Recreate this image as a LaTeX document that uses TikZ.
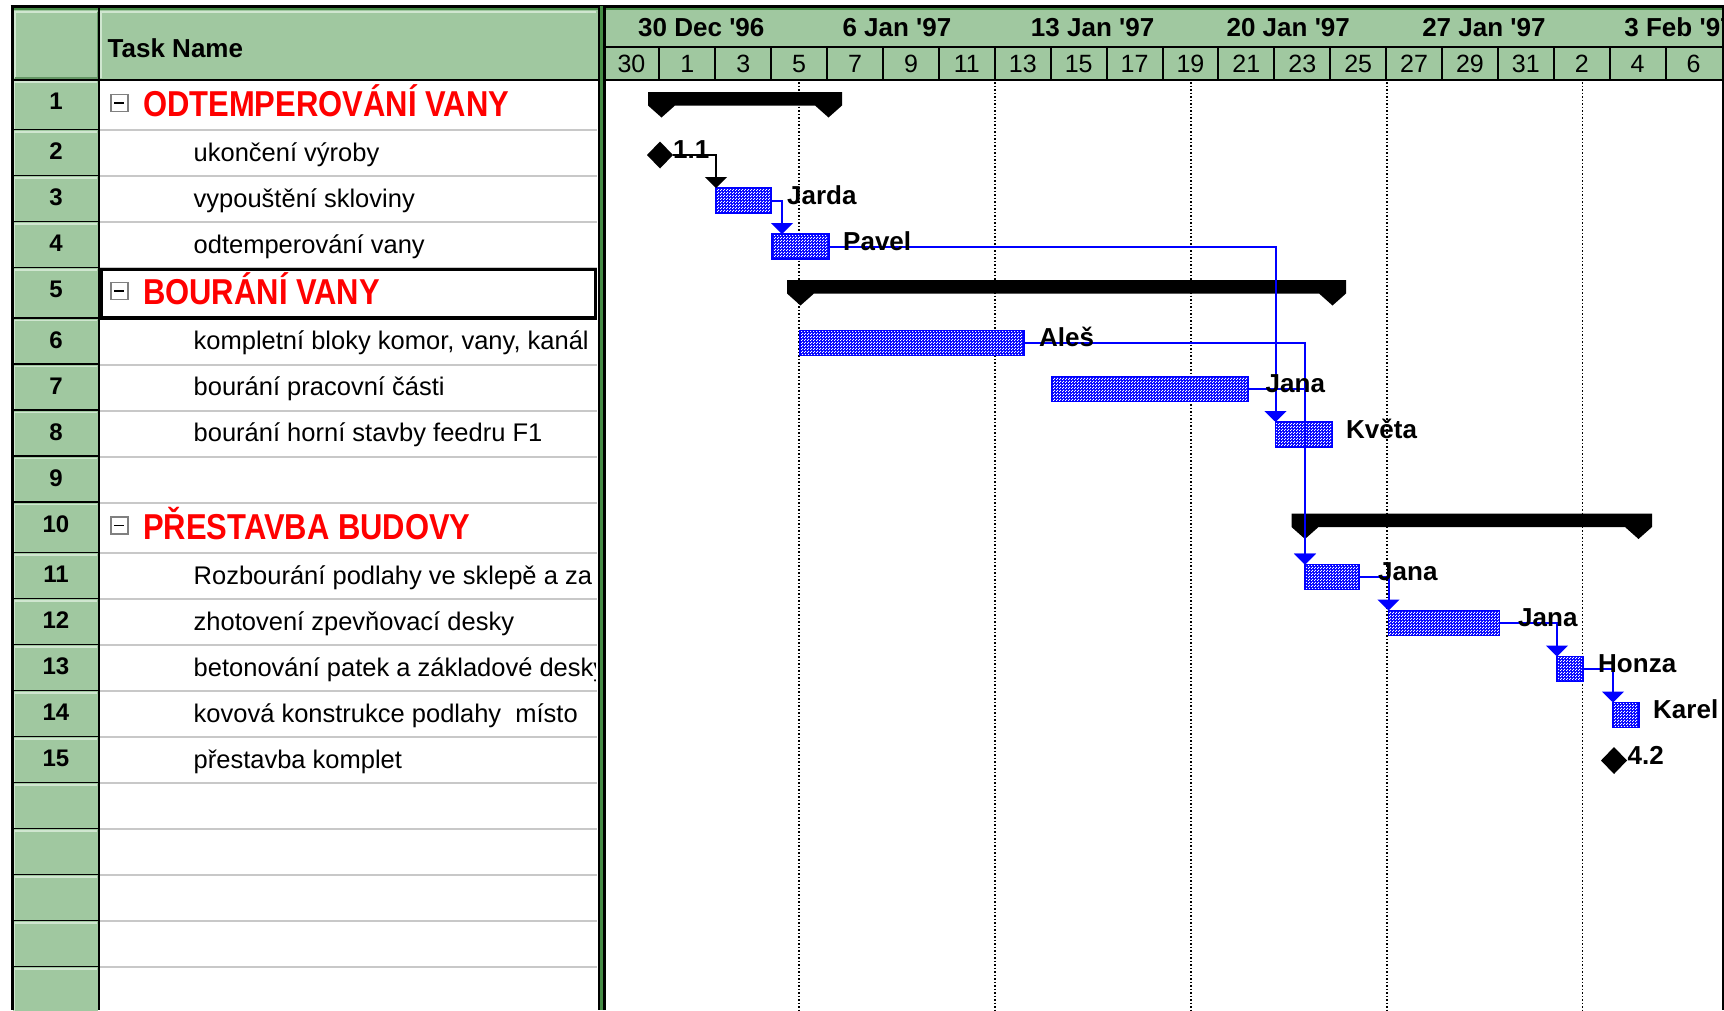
\documentclass[tikz,border=0pt]{standalone}
\usepackage{fontspec}
\setmainfont{Liberation Sans}
\newfontfamily\sumfont[FakeStretch=0.86]{Liberation Sans}
\usetikzlibrary{arrows.meta,shapes.geometric,patterns}

\definecolor{hdrgreen}{RGB}{160,200,160}
\definecolor{hdrlight}{RGB}{208,230,208}
\definecolor{hdrdark}{RGB}{100,150,100}
\definecolor{divgreen}{RGB}{70,140,70}
\definecolor{gridgray}{RGB}{200,200,200}
\definecolor{barblue}{RGB}{0,0,255}
\definecolor{sumred}{RGB}{255,0,0}

% fine dither used inside the task bars
\pgfdeclarepatternformonly{bardots}{\pgfpoint{0pt}{0pt}}{\pgfpoint{3pt}{3pt}}{\pgfpoint{3pt}{3pt}}{%
  \pgfpathrectangle{\pgfpoint{0pt}{0pt}}{\pgfpoint{1.35pt}{1.35pt}}%
  \pgfpathrectangle{\pgfpoint{1.5pt}{1.5pt}}{\pgfpoint{1.35pt}{1.35pt}}%
  \pgfusepath{fill}}

% summary bar: xl, xr, top
\newcommand\summarybar[3]{%
  \fill (#1,#3) -- (#2,#3) -- (#2,{#3+13.5}) -- ({#2-13.5},{#3+25.5}) -- ({#2-27},{#3+13.5})
    -- ({#1+27},{#3+13.5}) -- ({#1+13.5},{#3+25.5}) -- (#1,{#3+13.5}) -- cycle;}

\newcommand\apos{\textquotesingle}

\tikzset{
  taskbar/.style={draw=barblue, line width=1.5pt, fill=barblue,
    postaction={pattern=bardots, pattern color=white},
    postaction={draw=barblue, line width=1.5pt},
    minimum height=25pt, inner sep=0pt, outer sep=0pt, anchor=west},
  milestone/.style={diamond, fill=black, minimum width=26pt, minimum height=27pt,
    inner sep=0pt, outer sep=0pt},
  conn/.style={draw=barblue, line width=2pt, -{Triangle[width=22pt,length=11pt]}},
  blackconn/.style={draw=black, line width=2pt, -{Triangle[width=22pt,length=11pt]}},
  barlbl/.style={font=\bfseries\fontsize{26}{30}\selectfont, inner sep=0pt, anchor=base west},
  tasktxt/.style={font=\fontsize{25.5}{30}\selectfont, inner sep=0pt, anchor=base west},
  sumtxt/.style={font=\sumfont\bfseries\fontsize{36}{40}\selectfont, text=sumred, inner sep=0pt, anchor=base west},
  numtxt/.style={font=\bfseries\fontsize{24}{28}\selectfont, inner sep=0pt, anchor=base},
  weektxt/.style={font=\bfseries\fontsize{26}{30}\selectfont, inner sep=0pt, anchor=base},
  daytxt/.style={font=\fontsize{25}{30}\selectfont, inner sep=0pt, anchor=base},
  minusbox/.style={draw=gray, line width=1.5pt, fill=white, minimum size=17pt, inner sep=0pt,
    path picture={\draw[black, line width=1.5pt]
      ([xshift=-5pt]path picture bounding box.center) -- ([xshift=5pt]path picture bounding box.center);}},
  gridline/.style={black, line width=1.5pt, dash pattern=on 1.5pt off 2pt},
}

\begin{document}
\begin{tikzpicture}[x=1pt,y=-1pt]
\useasboundingbox (0,0) rectangle (1724,1010);
\fill[white] (0,0) rectangle (1724,1010);

% ---------- header band ----------
\fill[hdrgreen] (13,8) rectangle (1722,80);
\fill[divgreen] (13,8) rectangle (1722,10);
\draw[line width=2.5pt] (10.5,6.5) -- (1724,6.5);
% bevels of the two left header cells
\draw[hdrlight, line width=2pt] (14.5,78) -- (14.5,12) -- (97,12);
\draw[hdrdark, line width=2pt] (15,78) -- (97.5,78) -- (97.5,12);
\draw[hdrlight, line width=2pt] (101,78) -- (101,12) -- (596,12);
\node[font=\bfseries\fontsize{26}{30}\selectfont, inner sep=0pt, anchor=base west] (taskhdr) at (107.5,57) {Task Name};

% ---------- row number column and task column ----------
\foreach \t/\b in {80/130,130/176,176/222,222/268,268/318.5,318.5/364.5,364.5/410.5,
  410.5/456.5,456.5/502.5,502.5/553,553/599,599/645,645/691,691/737,737/783,
  783/829,829/875,875/921,921/967,967/1013}{
  \fill[hdrgreen] (13,\t) rectangle (98,\b);
  \draw[hdrlight, line width=1.5pt] (14.5,\b-1) -- (14.5,\t+2) -- (97,\t+2);
  \draw[black, line width=2.5pt] (12,\b) -- (99,\b);
  \draw[gridgray, line width=2pt] (100,\b) -- (597,\b);
}
\draw[line width=2pt] (12,80) -- (598,80);
\draw[line width=3pt] (12,5) -- (12,1010);
\draw[line width=2pt] (99,8) -- (99,1010);

\foreach \n/\t in {1/80,2/130,3/176,4/222,5/268,6/318.5,7/364.5,8/410.5,9/456.5,
  10/502.5,11/553,12/599,13/645,14/691,15/737}{
  \node[numtxt] (num\n) at (56,\t+29.5) {\n};
}

\begin{scope}
\clip (100,81) rectangle (595,1010);
\node[minusbox] (box1) at (119.3,102.8) {};
\node[minusbox] (box5) at (119.3,290.8) {};
\node[minusbox] (box10) at (119.3,525.3) {};
\node[sumtxt] (task1) at (143,116.5) {ODTEMPEROVÁNÍ VANY};
\node[sumtxt] (task5) at (143,304.5) {BOURÁNÍ VANY};
\node[sumtxt] (task10) at (143,539) {PŘESTAVBA BUDOVY};
\node[tasktxt] (task2) at (193.5,161) {ukončení výroby};
\node[tasktxt] (task3) at (193.5,207) {vypouštění skloviny};
\node[tasktxt] (task4) at (193.5,253) {odtemperování vany};
\node[tasktxt] (task6) at (193.5,349.5) {kompletní bloky komor, vany, kanál};
\node[tasktxt] (task7) at (193.5,395.5) {bourání pracovní části};
\node[tasktxt] (task8) at (193.5,441.5) {bourání horní stavby feedru F1};
\node[tasktxt] (task11) at (193.5,584) {Rozbourání podlahy ve sklepě a za};
\node[tasktxt] (task12) at (193.5,630) {zhotovení zpevňovací desky};
\node[tasktxt] (task13) at (193.5,676) {betonování patek a základové desky};
\node[tasktxt] (task14) at (193.5,722) {kovová konstrukce podlahy\ \ místo};
\node[tasktxt] (task15) at (193.5,768) {přestavba komplet};
\end{scope}
% selected cell
\draw[line width=3.5pt] (101.5,269.5) rectangle (595.5,318);

% ---------- splitter ----------
\fill[black] (597.5,6) rectangle (600,1010);
\fill[divgreen] (600,6) rectangle (603.3,1010);
\fill[black] (603.3,6) rectangle (606,1010);

% ---------- timescale ----------
\begin{scope}
\clip (606,8) rectangle (1721.5,80);
\foreach \w/\lab in {0/30 Dec \apos96,1/6 Jan \apos97,2/13 Jan \apos97,3/20 Jan \apos97,
  4/27 Jan \apos97,5/3 Feb \apos97}{
  \node[weektxt] (week\w) at (701.3+195.65*\w,36.5) {\lab};
}
\foreach \i/\d in {0/30,1/1,2/3,3/5,4/7,5/9,6/11,7/13,8/15,9/17,10/19,11/21,12/23,13/25,
  14/27,15/29,16/31,17/2,18/4,19/6}{
  \node[daytxt] (day\i) at (631.45+55.9*\i,72) {\d};
}
\end{scope}
\draw[line width=2pt] (606,46.5) -- (1722,46.5);
\draw[line width=2pt] (606,80) -- (1722,80);
\foreach \k in {1,...,19}{
  \draw[line width=2pt] (603.5+55.9*\k,46.5) -- (603.5+55.9*\k,80);
}
\draw[line width=2pt] (1722.5,5) -- (1722.5,1010);

% ---------- chart ----------
\foreach \x in {799,995,1191,1387,1582.5}{
  \draw[gridline] (\x,82) -- (\x,1010);
}

\summarybar{648}{842}{92}
\summarybar{787}{1346}{280}
\summarybar{1291.5}{1652}{513.5}

\node[taskbar, minimum width=55pt] (t3) at (716,200.5) {};
\node[taskbar, minimum width=57pt] (t4) at (772,246.5) {};
\node[taskbar, minimum width=224pt] (t6) at (800,343) {};
\node[taskbar, minimum width=196pt] (t7) at (1052,389) {};
\node[taskbar, minimum width=57pt] (t8) at (1275.5,434.5) {};
\node[taskbar, minimum width=54pt] (t11) at (1305,577) {};
\node[taskbar, minimum width=111pt] (t12) at (1388.5,623) {};
\node[taskbar, minimum width=26pt] (t13) at (1557,669) {};
\node[taskbar, minimum width=26pt] (t14) at (1613,715) {};

\node[milestone] (m2) at (660,155) {};
\node[milestone] (m15) at (1614,760.5) {};

\draw[blackconn] (m2.east) -| (t3.north west);
\draw[conn] (t3.east) -| ([xshift=10pt]t4.north west);
\draw[conn] (t4.east) -| (t8.north west);
\draw[conn] (t6.east) -| (t11.north west);
\draw[conn] (t7.east) -| (t11.north west);
\draw[conn] (t11.east) -| (t12.north west);
\draw[conn] (t12.east) -| (t13.north west);
\draw[conn] (t13.east) -| (t14.north west);

\node[barlbl] (l2) at (673,158.5) {1.1};
\node[barlbl] (l3) at (787,204) {Jarda};
\node[barlbl] (l4) at (843,250) {Pavel};
\node[barlbl] (l6) at (1039,346.5) {Aleš};
\node[barlbl] (l7) at (1265.5,392.5) {Jana};
\node[barlbl] (l8) at (1346,438) {Květa};
\node[barlbl] (l11) at (1378,580) {Jana};
\node[barlbl] (l12) at (1518,626) {Jana};
\node[barlbl] (l13) at (1598,672) {Honza};
\node[barlbl] (l14) at (1653,718) {Karel};
\node[barlbl] (l15) at (1627.5,764) {4.2};
\end{tikzpicture}
\end{document}
